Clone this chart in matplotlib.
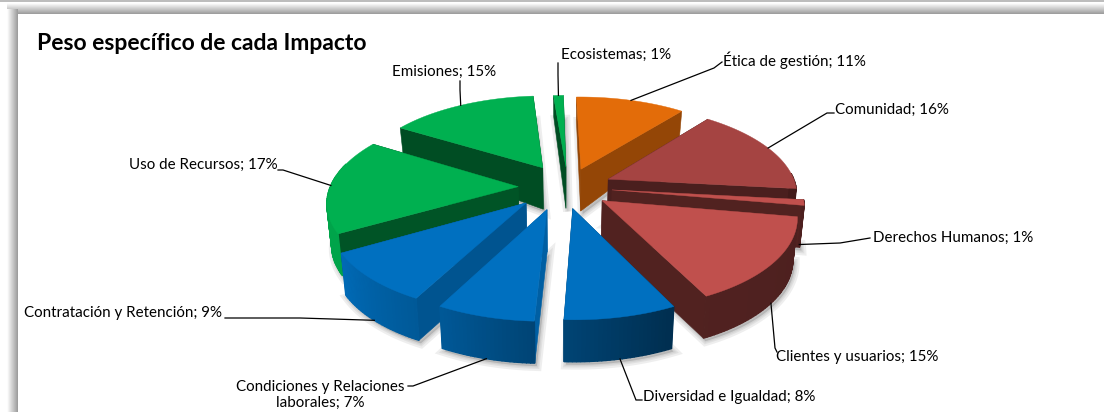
import numpy as np
import matplotlib
matplotlib.use("Agg")
import matplotlib.pyplot as plt
from matplotlib.patches import Polygon

# chart data, clockwise from 12 o'clock
labels = ["Ética de gestión", "Comunidad", "Derechos Humanos", "Clientes y usuarios",
          "Diversidad e Igualdad", "Condiciones y Relaciones\nlaborales", "Contratación y Retención",
          "Uso de Recursos", "Emisiones", "Ecosistemas"]
values = [11, 16, 1, 15, 8, 7, 9, 17, 15, 1]
colors = ["#e36c09", "#a54442", "#c0504d", "#c0504d", "#0070c0",
          "#0070c0", "#0070c0", "#00b050", "#00b050", "#00b050"]
radial_shade = [0.65, 0.45, 0.42, 0.42, 0.6, 0.85, 0.75, 0.48, 0.44, 0.44]
explode = [0.22, 0.235, 0.235, 0.235, 0.22, 0.235, 0.26, 0.265, 0.265, 0.235]
# small hand shifts of single slices, in pixels
nudge = [(0, 0), (0, 0), (0, 0), (-2, 1), (-4, 2), (-9, 2), (-7, -1), (0, 0), (0, 0), (0, 0)]

# label layout in pixels: text x, text y, ha, elbow x, elbow y, end x, end y
label_pos = [(723, 60, "left", 714, 68, 722, 62),
             (835, 110, "left", 827, 113, 834, 113),
             (873, 238, "left", 840, 243, 870, 238),
             (776, 357, "left", 775, 348, 777, 352),
             (643, 397, "left", 636, 400, 642, 400),
             (320, 395, "center", 413, 386, 408, 386),
             (222, 313, "right", 300, 318, 225, 318),
             (278, 165, "right", 283, 170, 278, 170),
             (496, 72, "right", 460, 90, 460, 81),
             (561, 55, "left", 558, 75, 558, 63)]

# pie geometry in pixels
cx, cy = 568, 187
Rx, Ry = 188, 88
persp = 0.15
rot = -1


def project(u, v, low=False, shift=(0, 0)):
    s = 1.0 / (1 + persp * v)
    x = cx + Rx * u * s
    y = cy - Ry * v * s
    if low:
        # walls shrink toward the back of the pie, and converge a little
        h = 42 - np.clip(v - 0.2, 0, None) * 20
        x = cx + (x - cx) * 0.98
        y = y + h
    return np.column_stack([np.atleast_1d(x) + shift[0], np.atleast_1d(y) + shift[1]])


def wall_shade(a):
    return np.interp(a, [100, 155, 184, 209, 241, 302], [0.4, 0.42, 0.62, 0.8, 0.95, 0.95])


def darker(col, f):
    return tuple(f * c for c in matplotlib.colors.to_rgb(col))


fig = plt.figure(figsize=(11.04, 4.12), dpi=100)
ax = fig.add_axes([0, 0, 1, 1])
ax.set_xlim(0, 1104)
ax.set_ylim(412, 0)
ax.axis("off")

# grey frame along the top and the left
ax.fill_between([0, 1104], 0, 2, color="#bdbdbd", lw=0, zorder=0)
gray = matplotlib.colors.LinearSegmentedColormap.from_list("g", ["#ffffff", "#9c9c9c"])
ax.imshow(np.linspace(0, 1, 24)[:, None], extent=[7, 1104, 14, 3], cmap=gray, aspect="auto", zorder=0)
ax.imshow(np.linspace(0, 1, 24)[None, :], extent=[7, 18, 412, 9], cmap=gray, aspect="auto", zorder=0)
ax.set_xlim(0, 1104)
ax.set_ylim(412, 0)

edges = np.cumsum([0] + values) * 3.6 + rot
slices = []
for i in range(len(values)):
    a0, a1 = edges[i], edges[i + 1]
    mid = np.radians((a0 + a1) / 2)
    ou, ov = explode[i] * np.sin(mid), explode[i] * np.cos(mid)
    t = np.radians(np.linspace(a0, a1, int(values[i] * 3) + 4))
    slices.append((i, a0, a1, ou, ov, t))

# back slices first
slices.sort(key=lambda q: -np.cos(np.radians((q[1] + q[2]) / 2)))

# soft shadow under everything
for i, a0, a1, ou, ov, t in slices:
    u = np.r_[ou, ou + np.sin(t)]
    v = np.r_[ov, ov + np.cos(t)]
    low = project(u, v, low=True, shift=nudge[i]) + [2, 3]
    for w in [7, 4, 2]:
        ax.add_patch(Polygon(low, closed=True, fc="#808080", ec="#808080", lw=w, alpha=0.13, zorder=1))

z = 2
for i, a0, a1, ou, ov, t in slices:
    col = colors[i]
    # radial faces
    for ang in (a0, a1):
        r = np.radians(ang)
        u = np.array([ou, ou + np.sin(r)])
        v = np.array([ov, ov + np.cos(r)])
        top = project(u, v, shift=nudge[i])
        low = project(u, v, low=True, shift=nudge[i])
        ax.add_patch(Polygon(np.vstack([top, low[::-1]]), closed=True, fc=darker(col, radial_shade[i]),
                             ec=darker(col, radial_shade[i]), lw=0.4, zorder=z))
    # outer wall, in short strips so the shading can run along it
    for j in range(len(t) - 1):
        a = np.degrees(t[j])
        if 262 > a > 85 or np.degrees(t[j + 1]) > 262 and a < 285:
            u = ou + np.sin(t[j:j + 2])
            v = ov + np.cos(t[j:j + 2])
            f = wall_shade(a)
            if col == "#00b050":
                f = 0.93
            q = np.vstack([project(u, v, shift=nudge[i]), project(u, v, low=True, shift=nudge[i])[::-1]])
            ax.add_patch(Polygon(q, closed=True, fc=darker(col, f), ec=darker(col, f), lw=1.0, zorder=z))
    # top face
    u = np.r_[ou, ou + np.sin(t)]
    v = np.r_[ov, ov + np.cos(t)]
    ax.add_patch(Polygon(project(u, v, shift=nudge[i]), closed=True, fc=col, ec=col, lw=0.3, zorder=z + 1))
    z += 2

# labels and leader lines, starting on the rim of each slice
for i in range(len(values)):
    mid = np.radians((edges[i] + edges[i + 1]) / 2)
    u = (explode[i] + 1) * np.sin(mid)
    v = (explode[i] + 1) * np.cos(mid)
    start = project(u, v, low=bool(np.cos(mid) < -0.1), shift=nudge[i])[0]
    tx, ty, ha, ex, ey, lx, ly = label_pos[i]
    ax.plot([start[0], ex, lx], [start[1], ey, ly], color="black", lw=0.9, zorder=50,
            solid_joinstyle="miter")
    ax.text(tx, ty, f"{labels[i]}; {values[i]}%", ha=ha, va="center", fontsize=10.9,
            family="Lato", color="black", zorder=51, multialignment="center", linespacing=1.25)

ax.text(37, 43, "Peso específico de cada Impacto", fontsize=16.45, fontweight="bold",
        family="Lato", ha="left", va="center", color="black", zorder=51)

fig.savefig("out.png", dpi=100)
